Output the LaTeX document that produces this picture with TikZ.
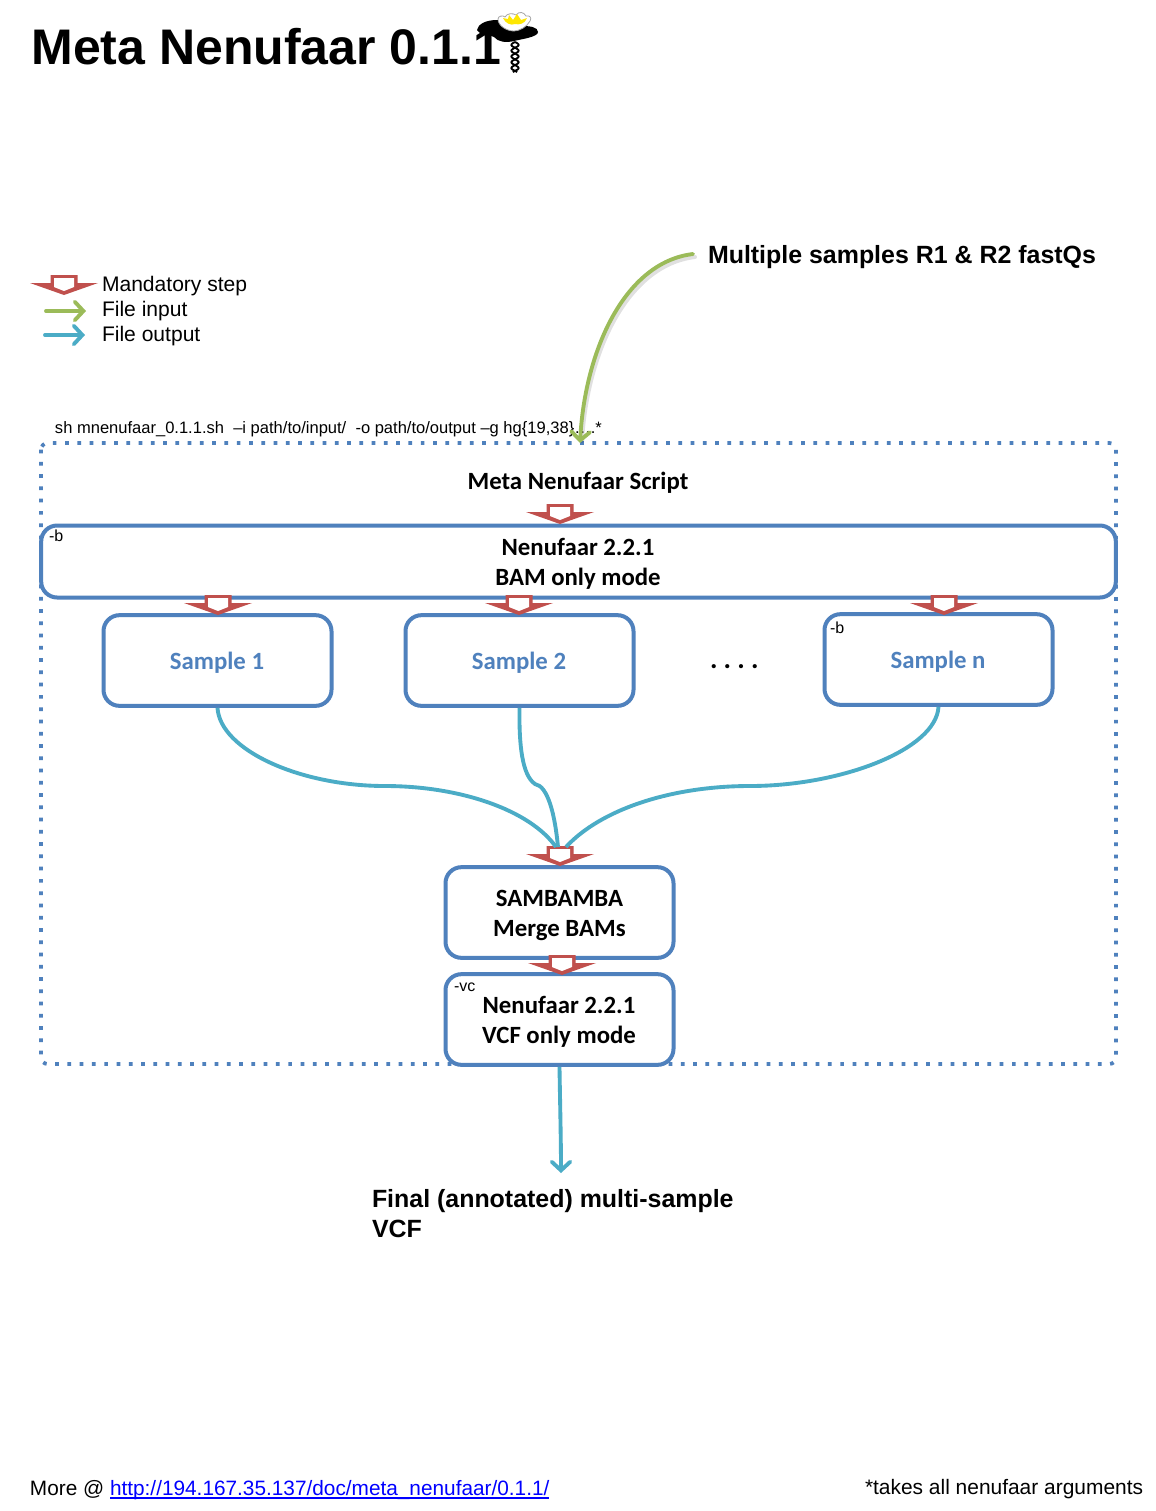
\documentclass[tikz,border=0pt]{standalone}
\usepackage{fontspec}
\setmainfont{Liberation Sans}
\newfontfamily\carl{Carlito}
\usetikzlibrary{arrows.meta,shadows}
\definecolor{bluebox}{HTML}{4F81BD}
\definecolor{redarr}{HTML}{C0504D}
\definecolor{greenarr}{HTML}{9BBB59}
\definecolor{tealarr}{HTML}{4BACC6}
\definecolor{linkblue}{HTML}{0000FF}
\newcommand{\fsz}[2]{\fontsize{#1}{#2}\selectfont}
\tikzset{
  x=0.75pt,y=-0.75pt,
  txt/.style={inner sep=0pt,outer sep=0pt,anchor=base west,text=black},
  boxstyle/.style={draw=bluebox,line width=3pt,rounded corners=12pt,fill=white,inner sep=0pt},
  sampletxt/.style={txt,anchor=base,text=bluebox,font=\carl\bfseries\fsz{18.6}{22.5}},
  flag/.style={txt,font=\fsz{12}{14}},
  headtxt/.style={txt,font=\bfseries\fsz{18.7}{22}},
  bartxt/.style={inner sep=0pt,outer sep=0pt,align=center,font=\carl\bfseries\fsz{18.6}{22.5}},
  outflow/.style={draw=tealarr,line width=2.9pt},
  infl/.style={draw=greenarr,line width=2.9pt},
  barb/.style={-{Straight Barb[length=6.5pt,width=14pt,line width=2.9pt,line cap=round]}},
  mand/.pic={
    \fill[redarr] (-13.5,-20)--(13.5,-20)--(13.5,-12)--(34,-12)--(0,0)--(-34,-12)--(-13.5,-12)--cycle;
    \fill[white] (-10,-17)--(10,-17)--(10,-8)--(0,-4)--(-10,-8)--cycle;
  }
}
\begin{document}
\begin{tikzpicture}
\useasboundingbox (0,0) rectangle (1156,1511);
\fill[white] (0,0) rectangle (1156,1511);

% title
\node[txt,font=\bfseries\fsz{37.5}{44}] (title) at (31.5,64) {Meta Nenufaar 0.1.1};

% logo
\begin{scope}
  \foreach \p in {0,180}{
    \draw[black,line width=1.4pt,domain=0:6.283*2.6,samples=70,smooth,variable=\t]
      plot ({515+3.6*sin(\t r+\p)},{42+\t*30/16.3});
  }
  \fill[black] (477,30) .. controls (478,24) and (486,20) .. (497,20)
     .. controls (506,20) and (514,25) .. (522,26)
     .. controls (530,26) and (538,27) .. (538,32)
     .. controls (538,37) and (522,39) .. (514,41)
     .. controls (506,43) and (498,42) .. (494,37)
     .. controls (490,34) and (482,37) .. (477,30) -- cycle;
  \draw[fill=white,draw=black!35,line width=.6pt]
     (498,19) .. controls (498,16) and (503,15) .. (505,17)
     .. controls (507,13) and (513,13) .. (516,15)
     .. controls (519,11) and (524,12) .. (526,16)
     .. controls (530,15) and (532,18) .. (530,21)
     .. controls (527,27) and (519,31) .. (514,31)
     .. controls (507,31) and (498,26) .. (498,19) -- cycle;
  \fill[yellow!90!orange] (503,18) -- (508,19) -- (509,15) -- (513,20) -- (517,14) -- (521,20) -- (527,18)
     .. controls (525,24) and (519,25) .. (515,24) .. controls (511,26) and (505,23) .. (503,18) -- cycle;
\end{scope}

% legend
\path (64,295) pic {mand};
\node[txt,font=\fsz{15.8}{18}] (legm) at (102,291) {Mandatory step};
\node[txt,font=\fsz{15.8}{18}] (legi) at (102,316) {File input};
\node[txt,font=\fsz{15.8}{18}] (lego) at (102,341) {File output};
\coordinate (gi1) at (46,311); \coordinate (gi2) at (86,311);
\coordinate (go1) at (45,335); \coordinate (go2) at (85,335);
\draw[infl,barb,line cap=round] (gi1) -- (gi2);
\draw[outflow,barb,line cap=round] (go1) -- (go2);

% multiple samples
\node[headtxt] (multi) at (708,263) {Multiple samples R1 \& R2 fastQs};
\node[txt,font=\fsz{12.4}{15}] (cmd) at (55,433) {sh mnenufaar\_0.1.1.sh\ \ –i path/to/input/\ \ -o path/to/output –g hg\{19,38\}….*};

% dotted container
\draw[bluebox,line width=2.8pt,dash pattern=on 2.8pt off 6.4pt,rounded corners=5pt] (41,443) rectangle (1116,1064);

\coordinate (msrc) at (693,254);
\coordinate (mdst) at (580,443);
\draw[black,opacity=.12,line width=3pt,line cap=round] (695,257) .. controls (627,265) and (587,353) .. (582,441);
\draw[infl,barb,line cap=round] (msrc) .. controls (625,262) and (585,350) .. (mdst);

% boxes
\node[txt,font=\carl\bfseries\fsz{18.6}{22.5},anchor=base] (script) at (578,489) {Meta Nenufaar Script};
\node[boxstyle,minimum width=806pt,minimum height=54pt] (nen) at (578.5,561.5) {};
\node[bartxt] (nent) at (578,564) {Nenufaar 2.2.1\\BAM only mode};
\node[boxstyle,minimum width=171pt,minimum height=68pt] (s1) at (217.5,660.5) {};
\node[boxstyle,minimum width=171pt,minimum height=68pt] (s2) at (519.5,660.5) {};
\node[boxstyle,minimum width=171pt,minimum height=68pt] (sn) at (938.5,659.5) {};
\node[sampletxt] (s1t) at (217,669) {Sample 1};
\node[sampletxt] (s2t) at (519,669) {Sample 2};
\node[sampletxt] (snt) at (938,668) {Sample n};
\node[txt,font=\carl\bfseries\fsz{21}{22}] (dots) at (710,668) {.\kern4.7pt.\kern4.7pt.\kern4.7pt.};
\node[boxstyle,minimum width=171pt,minimum height=68pt] (merge) at (559.5,912.5) {};
\node[bartxt] (merget) at (559.5,915) {SAMBAMBA\\Merge BAMs};
\node[boxstyle,minimum width=171pt,minimum height=68pt] (vc) at (559.5,1019.5) {};
\node[bartxt] (vct) at (559,1022) {Nenufaar 2.2.1\\VCF only mode};
\node[flag] (fb1) at (49,541) {-b};
\node[flag] (fb2) at (830,633) {-b};
\node[flag] (fvc) at (454,991) {-vc};

% mandatory arrows
\path (560,524) pic {mand};
\path (218,615) pic {mand};
\path (519,615) pic {mand};
\path (944,615) pic {mand};
\path (560,866) pic {mand};
\path (562,975) pic {mand};

% outputs
\coordinate (mt) at (556,847);
\coordinate (mm) at (558,847);
\coordinate (mr) at (566,847);
\draw[outflow] (s1.south) .. controls (220,750) and (300,786) .. (385,786) .. controls (460,786) and (530,810) .. (mt);
\draw[outflow] (s2.south) .. controls (519,745) and (522,775) .. (535,784) .. controls (548,786) and (555,815) .. (mm);
\draw[outflow] (sn.south) .. controls (936,750) and (840,786) .. (750,786) .. controls (670,786) and (600,810) .. (mr);
\coordinate (fin) at (561,1173);
\draw[outflow,barb] (vc.south) .. controls (560,1100) and (561,1140) .. (fin);

\node[txt,font=\bfseries\fsz{18.7}{22}] (fa) at (372,1207) {Final (annotated) multi-sample};
\node[txt,font=\bfseries\fsz{18.7}{22}] (fb) at (372,1237) {VCF};

% footer
\node[txt,font=\fsz{15.6}{18}] (more) at (30,1495) {More @};
\node[txt,font=\fsz{15.6}{18},text=linkblue] (lnk) at (110,1495) {http://194.167.35.137/doc/meta\_nenufaar/0.1.1/};
\draw[linkblue,line width=.9pt] (110,1498) -- (549,1498);
\node[txt,font=\fsz{15.7}{18}] (note) at (865,1494) {*takes all nenufaar arguments};
\end{tikzpicture}
\end{document}
